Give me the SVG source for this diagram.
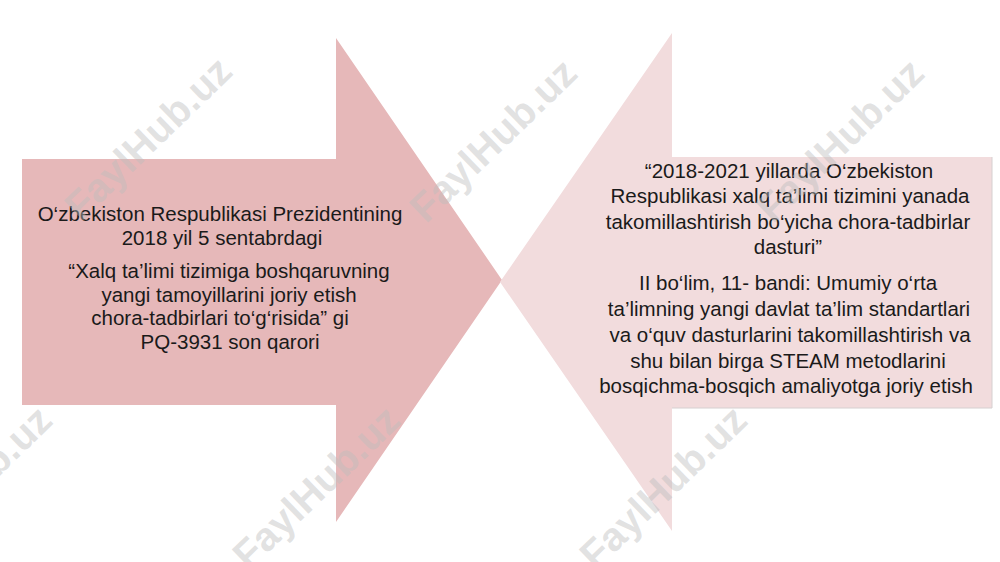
<svg xmlns="http://www.w3.org/2000/svg" width="1000" height="562" viewBox="0 0 1000 562">
<style>
.t{font-family:"Liberation Sans",Arial,sans-serif;font-size:20.5px;fill:#1a1a1a;text-anchor:middle}
.wm{font-family:"Liberation Sans",Arial,sans-serif;font-weight:bold;font-size:40px;fill:#bdbdbd;fill-opacity:0.45;text-anchor:middle;dominant-baseline:central}
</style>
<rect width="1000" height="562" fill="#ffffff"/>
<g id="left-arrow">
<polygon points="22,159 336,159 336,38 502,280 336,522 336,405 22,405" fill="#e6b8b9"/>
<text class="t" x="220" y="221">O‘zbekiston Respublikasi Prezidentining</text>
<text class="t" x="222" y="245">2018 yil 5 sentabrdagi</text>
<text class="t" x="229" y="278">“Xalq ta’limi tizimiga boshqaruvning</text>
<text class="t" x="229" y="301.5">yangi tamoyillarini joriy etish</text>
<text class="t" x="220" y="325">chora-tadbirlari to‘g‘risida” gi</text>
<text class="t" x="230" y="349">PQ-3931 son qarori</text>
</g>
<g id="right-arrow">
<polygon points="500,282 672,33 672,157 992,157 992,408 672,408 672,531" fill="#f2dcdd"/>
<polyline points="992,157 992,408 672,408" fill="none" stroke="#d6d0d0" stroke-width="1"/>
<text class="t" x="789" y="178">“2018-2021 yillarda O‘zbekiston</text>
<text class="t" x="790" y="203">Respublikasi xalq ta’limi tizimini yanada</text>
<text class="t" x="788" y="228.5">takomillashtirish bo‘yicha chora-tadbirlar</text>
<text class="t" x="788" y="254">dasturi”</text>
<text class="t" x="788" y="290">II bo‘lim, 11- bandi: Umumiy o‘rta</text>
<text class="t" x="789" y="316">ta’limning yangi davlat ta’lim standartlari</text>
<text class="t" x="790" y="342">va o‘quv dasturlarini takomillashtirish va</text>
<text class="t" x="788" y="368">shu bilan birga STEAM metodlarini</text>
<text class="t" x="786" y="393">bosqichma-bosqich amaliyotga joriy etish</text>
</g>
<g id="connectors"></g>
<g id="watermarks">
<text class="wm" transform="translate(148,138) rotate(-44)">FaylHub.uz</text>
<text class="wm" transform="translate(493,140) rotate(-44)">FaylHub.uz</text>
<text class="wm" transform="translate(840,140) rotate(-44)">FaylHub.uz</text>
<text class="wm" transform="translate(-32,487) rotate(-44)">FaylHub.uz</text>
<text class="wm" transform="translate(316,487) rotate(-44)">FaylHub.uz</text>
<text class="wm" transform="translate(663,487) rotate(-44)">FaylHub.uz</text>
</g>
</svg>
